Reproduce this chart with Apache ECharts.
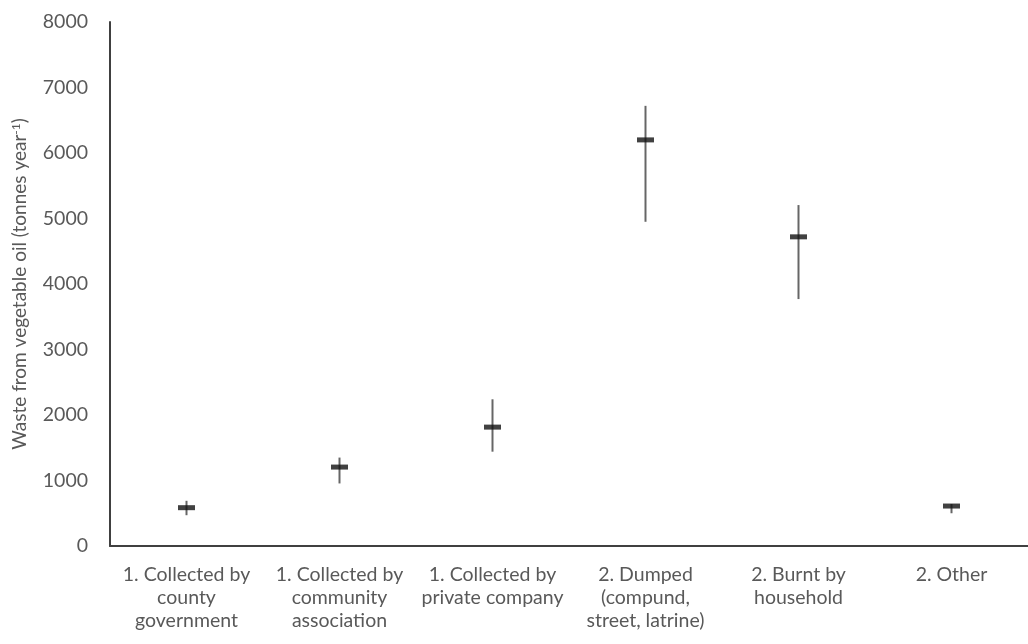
<!DOCTYPE html>
<html>
<head>
<meta charset="utf-8">
<script src="https://cdn.jsdelivr.net/npm/echarts@6/dist/echarts.min.js"></script>
<style>
	html, body { margin: 0; padding: 0; background: #fff; }
	#main { width: 1028px; height: 644px; }
</style>
</head>
<body>
<div id="main"></div>
<script>
	// categories (x axis)
	var categories = [
		'1. Collected by\ncounty\ngovernment',
		'1. Collected by\ncommunity\nassociation',
		'1. Collected by\nprivate company',
		'2. Dumped\n(compund,\nstreet, latrine)',
		'2. Burnt by\nhousehold',
		'2. Other'
	];
	// mean values and ranges (tonnes per year)
	var meanValues = [585, 1205, 1815, 6200, 4720, 610];
	var lowValues = [470, 955, 1440, 4950, 3770, 500];
	var highValues = [690, 1350, 2240, 6720, 5205, 640];

	var rangeData = categories.map(function (c, i) {
		return [i, lowValues[i], highValues[i]];
	});
	var meanData = categories.map(function (c, i) {
		return [i, meanValues[i]];
	});

	var myChart = echarts.init(document.getElementById('main'));
	var fontFam = 'Lato, "Open Sans", sans-serif';

	myChart.setOption({
		animation: false,
		grid: { left: 110, right: 0, top: 22, bottom: 98 },
		xAxis: {
			type: 'category',
			data: categories,
			axisLine: { lineStyle: { color: '#404040', width: 2 } },
			axisTick: { show: false },
			axisLabel: {
				color: '#595959',
				fontSize: 19.5,
				fontFamily: fontFam,
				lineHeight: 23,
				margin: 17,
				interval: 0
			}
		},
		yAxis: {
			type: 'value',
			min: 0,
			max: 8000,
			interval: 1000,
			name: '{a|Waste from vegetable oil (tonnes year}{s|-1}{a|)}',
			nameLocation: 'middle',
			nameRotate: 90,
			nameGap: 80,
			nameTextStyle: {
				rich: {
					a: { color: '#595959', fontSize: 19, fontFamily: fontFam },
					s: { color: '#595959', fontSize: 12, fontFamily: fontFam, verticalAlign: 'top', padding: [0, 0, 8, 0] }
				}
			},
			axisLine: { show: true, lineStyle: { color: '#404040', width: 2 } },
			axisTick: { show: false },
			splitLine: { show: false },
			axisLabel: {
				color: '#595959',
				fontSize: 19.5,
				fontFamily: fontFam,
				margin: 22,
				formatter: function (v) { return String(v); }
			}
		},
		series: [
			{
				// vertical range lines
				type: 'custom',
				data: rangeData,
				renderItem: function (params, api) {
					var top = api.coord([api.value(0), api.value(2)]);
					var bot = api.coord([api.value(0), api.value(1)]);
					return {
						type: 'line',
						shape: { x1: top[0], y1: top[1], x2: bot[0], y2: bot[1] },
						style: { stroke: '#666', lineWidth: 2 }
					};
				}
			},
			{
				// mean markers
				type: 'scatter',
				data: meanData,
				symbol: 'rect',
				symbolSize: [17, 5],
				itemStyle: { color: '#111' },
				z: 3
			}
		]
	});
</script>
</body>
</html>
